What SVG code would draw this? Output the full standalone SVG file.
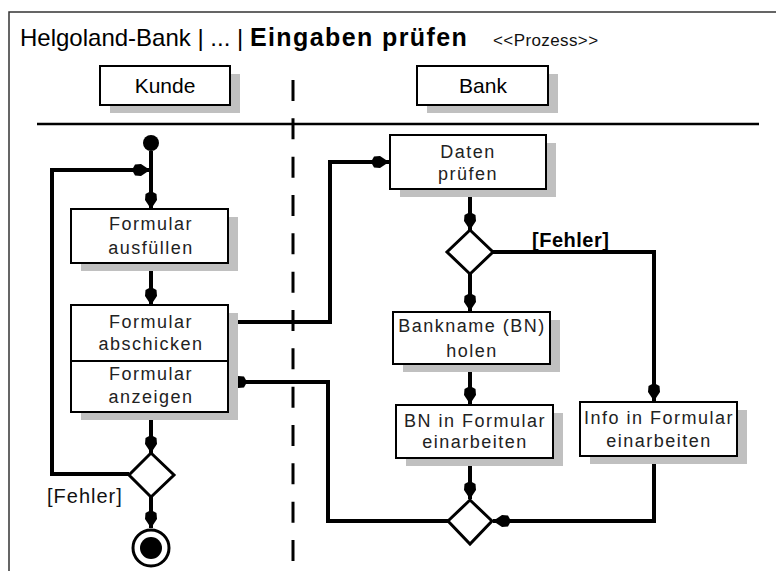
<svg xmlns="http://www.w3.org/2000/svg" width="776" height="571" viewBox="0 0 776 571">
<style>
text{font-family:"Liberation Sans",Arial,sans-serif;}
.shadow{fill:#c0c0c0;stroke:none;}
.box{fill:#fff;stroke:#000;stroke-width:2;}
.lbl{font-size:18px;fill:#222;letter-spacing:1.5px;text-anchor:middle;}
.lane{font-size:21px;fill:#000;text-anchor:middle;}
.dia{fill:#fff;stroke:#000;stroke-width:3;}
.conn{fill:none;stroke:#000;stroke-width:4;}
.arr{marker-end:url(#ah);}
</style>
<defs>
<marker id="ah" markerUnits="userSpaceOnUse" viewBox="-19 -7 19 14" refX="0" refY="0" markerWidth="19" markerHeight="14" orient="auto">
<path d="M0,0 L-9,-6 L-15,-5.5 L-18,0 L-15,5.5 L-9,6 Z" fill="#000"/>
</marker>
</defs>
<rect x="0" y="0" width="776" height="571" fill="#fff"/>
<path d="M9,571 V12 H776" fill="none" stroke="#333" stroke-width="1.5"/>
<g id="title">
<text x="20" y="46" font-size="24" fill="#000">Helgoland-Bank | ... | <tspan font-weight="bold" font-size="25" letter-spacing="1.4">Eingaben prüfen</tspan></text>
<text x="493" y="46" font-size="17" fill="#111" letter-spacing="0.4">&lt;&lt;Prozess&gt;&gt;</text>
</g>
<g id="swimlanes">
<line x1="37" y1="124" x2="759" y2="124" stroke="#000" stroke-width="2.5"/>
<line x1="293" y1="80" x2="293" y2="565" stroke="#000" stroke-width="3" stroke-dasharray="21 17.33"/>
</g>
<g id="lane-kunde">
<rect class="shadow" x="110" y="74" width="130" height="39"/>
<rect class="box" x="100" y="66" width="130" height="39"/>
<text class="lane" x="165" y="93">Kunde</text>
</g>
<g id="lane-bank">
<rect class="shadow" x="427" y="74" width="131" height="39"/>
<rect class="box" x="417" y="66" width="131" height="39"/>
<text class="lane" x="483" y="93">Bank</text>
</g>
<g id="connectors">
<path class="conn arr" d="M151,151 V209"/>
<path class="conn arr" d="M129,474 H52 V170 H150"/>
<path class="conn arr" d="M151,263 V305"/>
<path class="conn arr" d="M151,412 V453"/>
<path class="conn arr" d="M151,497 V528"/>
<path class="conn arr" d="M228,322 H330 V162 H389"/>
<path class="conn arr" d="M470,189 V230"/>
<path class="conn arr" d="M493,252 H654 V401"/>
<path class="conn arr" d="M470,274 V311"/>
<path class="conn arr" d="M470,364 V404"/>
<path class="conn arr" d="M470,458 V499"/>
<path class="conn arr" d="M448,521 H328 V382 H229"/>
<path class="conn arr" d="M654,456 V521 H493"/>
</g>
<g id="start">
<circle cx="151" cy="143" r="8" fill="#000"/>
</g>
<g id="formular-ausfuellen">
<rect class="shadow" x="81" y="217" width="157" height="54"/>
<rect class="box" x="71" y="209" width="157" height="54"/>
<text class="lbl" x="151" y="230">Formular</text>
<text class="lbl" x="151" y="254">ausfüllen</text>
</g>
<g id="formular-abschicken-anzeigen-shadow">
<rect class="shadow" x="81" y="313" width="157" height="107"/>
</g>
<g id="formular-abschicken">
<rect class="box" x="71" y="305" width="157" height="56"/>
<text class="lbl" x="151" y="328">Formular</text>
<text class="lbl" x="151" y="350">abschicken</text>
</g>
<g id="formular-anzeigen">
<rect class="box" x="71" y="361" width="157" height="51"/>
<text class="lbl" x="151" y="380">Formular</text>
<text class="lbl" x="151" y="403">anzeigen</text>
</g>
<g id="decision-kunde">
<polygon class="dia" points="151,453 174,475 151,497 129,475"/>
<text x="47" y="503" font-size="20" fill="#111" letter-spacing="1">[Fehler]</text>
</g>
<g id="end">
<circle cx="151" cy="548" r="18" fill="#fff" stroke="#000" stroke-width="3"/>
<circle cx="151" cy="548" r="11" fill="#000"/>
</g>
<g id="daten-pruefen">
<rect class="shadow" x="400" y="143" width="156" height="54"/>
<rect class="box" x="390" y="135" width="156" height="54"/>
<text class="lbl" x="468" y="158">Daten</text>
<text class="lbl" x="468" y="180">prüfen</text>
</g>
<g id="decision-bank">
<polygon class="dia" points="470,230 493,252 470,274 447,252"/>
<text x="532" y="247" font-size="20" font-weight="bold" fill="#000" letter-spacing="0.5">[Fehler]</text>
</g>
<g id="bankname-holen">
<rect class="shadow" x="403" y="320" width="157" height="52"/>
<rect class="box" x="393" y="312" width="157" height="52"/>
<text class="lbl" x="472" y="332">Bankname (BN)</text>
<text class="lbl" x="472" y="357">holen</text>
</g>
<g id="bn-einarbeiten">
<rect class="shadow" x="406" y="413" width="157" height="53"/>
<rect class="box" x="396" y="405" width="157" height="53"/>
<text class="lbl" x="475" y="427">BN in Formular</text>
<text class="lbl" x="475" y="448">einarbeiten</text>
</g>
<g id="info-einarbeiten">
<rect class="shadow" x="590" y="410" width="157" height="54"/>
<rect class="box" x="580" y="402" width="157" height="54"/>
<text class="lbl" x="659" y="424" letter-spacing="1.3">Info in Formular</text>
<text class="lbl" x="659" y="447">einarbeiten</text>
</g>
<g id="merge">
<polygon class="dia" points="470,500 492,521 470,544 448,521"/>
</g>
</svg>
